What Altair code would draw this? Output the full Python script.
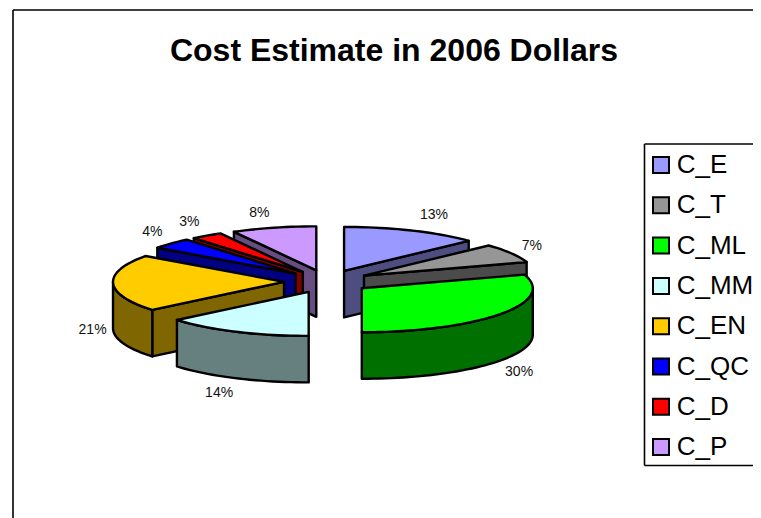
import math
import altair as alt

# ---- values ----
names = ["C_E", "C_T", "C_ML", "C_MM", "C_EN", "C_QC", "C_D", "C_P"]
percent = [13, 7, 30, 14, 21, 4, 3, 8]
top_colors = ["#9999FF", "#969696", "#00FF00", "#CCFFFF", "#FFCC00", "#0000FF", "#FF0000", "#CC99FF"]
side_colors = ["#4D4D80", "#4B4B4B", "#007000", "#668080", "#806600", "#000080", "#800000", "#664D80"]
draw_order = ["C_E", "C_T", "C_ML", "C_P", "C_D", "C_QC", "C_EN", "C_MM"]
label_reach = [1.325, 1.14, 1.137, 1.23, 1.12, 1.15, 1.18, 1.34]
label_nudge = [-2, -4, 8, 6, 0, -7, -7, 0]

# ---- pie geometry (tilted pie, exploded slices) ----
CX, CY = 319, 273.5
RX, RY = 171, 44
DEPTH = 46.5
EXPLODE_X, EXPLODE_Y = 43, 11.5


def rim(apex, deg, drop=0.0):
    a = math.radians(deg)
    return [apex[0] + RX * math.sin(a), apex[1] - RY * math.cos(a) + drop]


def arc(apex, a0, a1, drop=0.0):
    n = max(2, int(abs(a1 - a0) / 2) + 1)
    return [rim(apex, a0 + (a1 - a0) * i / (n - 1), drop) for i in range(n)]


def feature(ring, name, fill):
    return {
        "type": "Feature",
        "geometry": {"type": "Polygon", "coordinates": [ring + [ring[0]]]},
        "properties": {"name": name, "fill": fill},
    }


slices = {}
running = 0.0
for name, pct, label_k, nudge in zip(names, percent, label_reach, label_nudge):
    start = running * 3.6
    running += pct
    end = running * 3.6
    mid = math.radians((start + end) / 2)
    apex = [CX + EXPLODE_X * math.sin(mid), CY - EXPLODE_Y * math.cos(mid)]
    slices[name] = dict(start=start, end=end, mid=mid, apex=apex, k=label_k, nudge=nudge, pct=pct)

tops, sides, labels = [], [], []
for name in draw_order:
    s = slices[name]
    i = names.index(name)
    apex, a0, a1 = s["apex"], s["start"], s["end"]
    low = [apex[0], apex[1] + DEPTH]
    if math.sin(math.radians(a0)) < -1e-6:
        p = rim(apex, a0)
        sides.append(feature([apex, p, [p[0], p[1] + DEPTH], low], name, side_colors[i]))
    if math.sin(math.radians(a1)) > 1e-6:
        p = rim(apex, a1)
        sides.append(feature([apex, p, [p[0], p[1] + DEPTH], low], name, side_colors[i]))
    w0, w1 = max(a0, 90), min(a1, 270)
    if w1 > w0:
        sides.append(feature(arc(apex, w0, w1) + arc(apex, w1, w0, DEPTH), name, side_colors[i]))
    tops.append(feature([apex] + arc(apex, a0, a1), name, top_colors[i]))
    front = math.cos(s["mid"]) < 0 or abs(math.cos(s["mid"])) < 0.1
    labels.append({
        "lon": apex[0] + s["k"] * RX * math.sin(s["mid"]),
        "lat": apex[1] - s["k"] * RY * math.cos(s["mid"]) + (DEPTH if front else 0) + s["nudge"],
        "text": f"{s['pct']}%",
    })

FONT = "Liberation Sans"
identity = dict(type="identity", scale=1, translate=[0, 0])
anchor = alt.Data(values=[{"a": 0}])
W, H = 745, 510


def rule(x, y, x2=None, y2=None):
    enc = dict(x=alt.value(x), y=alt.value(y))
    if x2 is not None:
        enc["x2"] = alt.value(x2)
    if y2 is not None:
        enc["y2"] = alt.value(y2)
    return alt.Chart(anchor).mark_rule(color="black", strokeWidth=1.6).encode(**enc)


frame = [
    rule(5, 2, x2=W),
    rule(5, 2, y2=H),
    rule(636.5, 136, x2=W),
    rule(636.5, 136, y2=457.5),
    rule(636.5, 457.5, x2=W),
]

side_layer = alt.Chart(alt.Data(values=sides)).mark_geoshape(
    stroke="black", strokeWidth=2.4, strokeJoin="round"
).encode(fill=alt.Fill("properties.fill:N", scale=None, legend=None)).project(**identity)

top_layer = alt.Chart(alt.Data(values=tops)).mark_geoshape(
    stroke="black", strokeWidth=2.4, strokeJoin="round"
).encode(
    fill=alt.Fill(
        "properties.name:N",
        scale=alt.Scale(domain=names, range=top_colors),
        sort=None,
        legend=alt.Legend(
            title=None, orient="none", legendX=640, legendY=144,
            symbolType="square", symbolSize=256,
            symbolStrokeColor="black", symbolStrokeWidth=2,
            labelFont=FONT, labelFontSize=26, labelColor="black", labelOffset=2.7,
            labelLimit=200, rowPadding=14.3, padding=0, symbolOpacity=1,
        ),
    )
).project(**identity)

label_layer = alt.Chart(alt.Data(values=labels)).mark_text(
    font=FONT, fontSize=14, color="#111111", align="center", baseline="middle"
).encode(
    longitude="lon:Q", latitude="lat:Q", text="text:N"
).project(**identity)

chart = alt.layer(*frame, side_layer, top_layer, label_layer).resolve_scale(
    fill="independent"
).resolve_legend(fill="independent").properties(
    width=W, height=H, padding=0,
    autosize=alt.AutoSizeParams(type="none"),
    title=alt.TitleParams(
        "Cost Estimate in 2006 Dollars", font=FONT, fontSize=32, fontWeight="bold",
        color="black", anchor="middle", dx=13.5, dy=64,
    ),
).configure_view(stroke=None)

chart.save("out.html", embed_options={"renderer": "svg", "actions": False})
